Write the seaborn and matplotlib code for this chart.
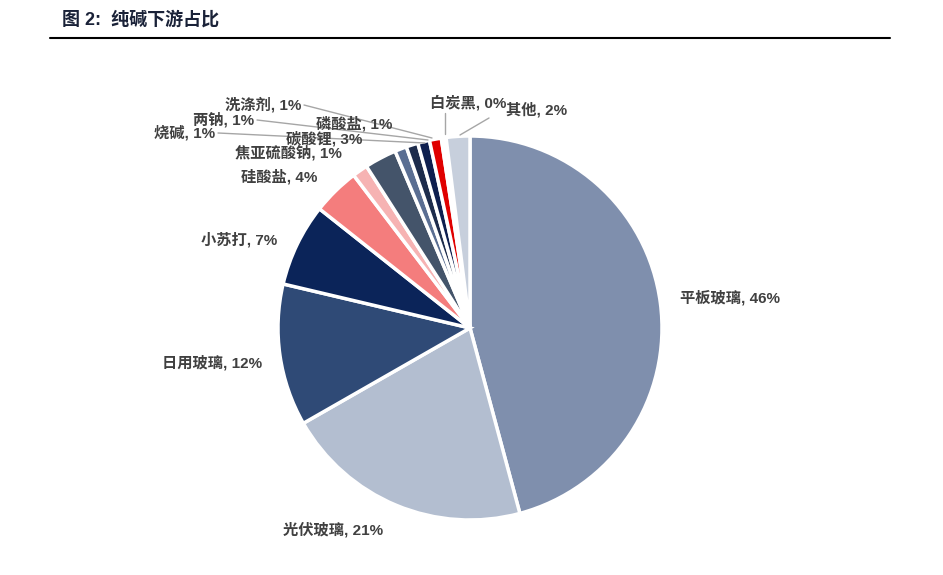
import matplotlib.pyplot as plt
import seaborn as sns

# 纯碱下游占比 (%)
categories = ['平板玻璃', '光伏玻璃', '日用玻璃', '小苏打', '硅酸盐', '焦亚硫酸钠',
              '碳酸锂', '磷酸盐', '烧碱', '两钠', '洗涤剂', '白炭黑', '其他']
shares = [46, 21, 12, 7, 4, 1.3, 2.7, 1, 1, 1, 1, 0.4, 2]
colors = ['#7f8fad', '#b3bed0', '#2f4a76', '#0b2459', '#f47d7d', '#f6b3b3',
          '#44546a', '#5a6e92', '#1d2c4c', '#0e1f4f', '#e00000', '#ffffff', '#c7cfdc']

# label anchor (pixel coords from top-left), alignment, leader line end
label_pos = {
    '平板玻璃': (680, 298, 'left', None),
    '光伏玻璃': (333, 530, 'center', None),
    '日用玻璃': (262, 363, 'right', None),
    '小苏打': (277, 240, 'right', None),
    '硅酸盐': (317, 177, 'right', None),
    '焦亚硫酸钠': (342, 153, 'right', None),
    '碳酸锂': (362, 139, 'right', None),
    '磷酸盐': (392, 124, 'right', None),
    '烧碱': (215, 133, 'right', (425, 143)),
    '两钠': (254, 120, 'right', (428, 140)),
    '洗涤剂': (301, 105, 'right', (432, 138)),
    '白炭黑': (468, 103, 'center', (445, 134)),
    '其他': (537, 110, 'center', (460, 135)),
}

W, H = 943, 575
sns.set_theme(style='white')
plt.rcParams['font.family'] = ['Liberation Sans', 'Noto Sans CJK SC', 'DejaVu Sans']

fig = plt.figure(figsize=(W / 100, H / 100), dpi=100)
ax = fig.add_axes([0, 0, 1, 1])
ax.set_xlim(0, W)
ax.set_ylim(0, H)
ax.set_aspect('equal')
ax.axis('off')

def py(y):
    return H - y

ax.pie(shares, colors=colors, startangle=90, counterclock=False,
       center=(470, py(328)), radius=192,
       wedgeprops=dict(edgecolor='white', linewidth=2.5))
ax.set_xlim(0, W)
ax.set_ylim(0, H)

for cat, val in zip(categories, shares):
    x, y, ha, end = label_pos[cat]
    ax.text(x, py(y), f'{cat}, {val:.0f}%', ha=ha, va='center', fontsize=11,
            fontweight='bold', color='#404040', zorder=5)
    if end is not None:
        if ha == 'right':
            sx, sy = x + 3, py(y)
        elif cat == '白炭黑':
            sx, sy = end[0], py(y) - 10
        else:
            sx, sy = x - 48, py(y) - 8
        ax.plot([sx, end[0]], [sy, py(end[1])], color='#a6a6a6', lw=1, zorder=4)

# title and rule
ax.text(62, py(20), '图 2:  纯碱下游占比', ha='left', va='center', fontsize=13,
        fontweight='bold', color='#1a2238')
ax.plot([50, 890], [py(38), py(38)], color='black', lw=1.5)

fig.savefig('out.png', dpi=100)
